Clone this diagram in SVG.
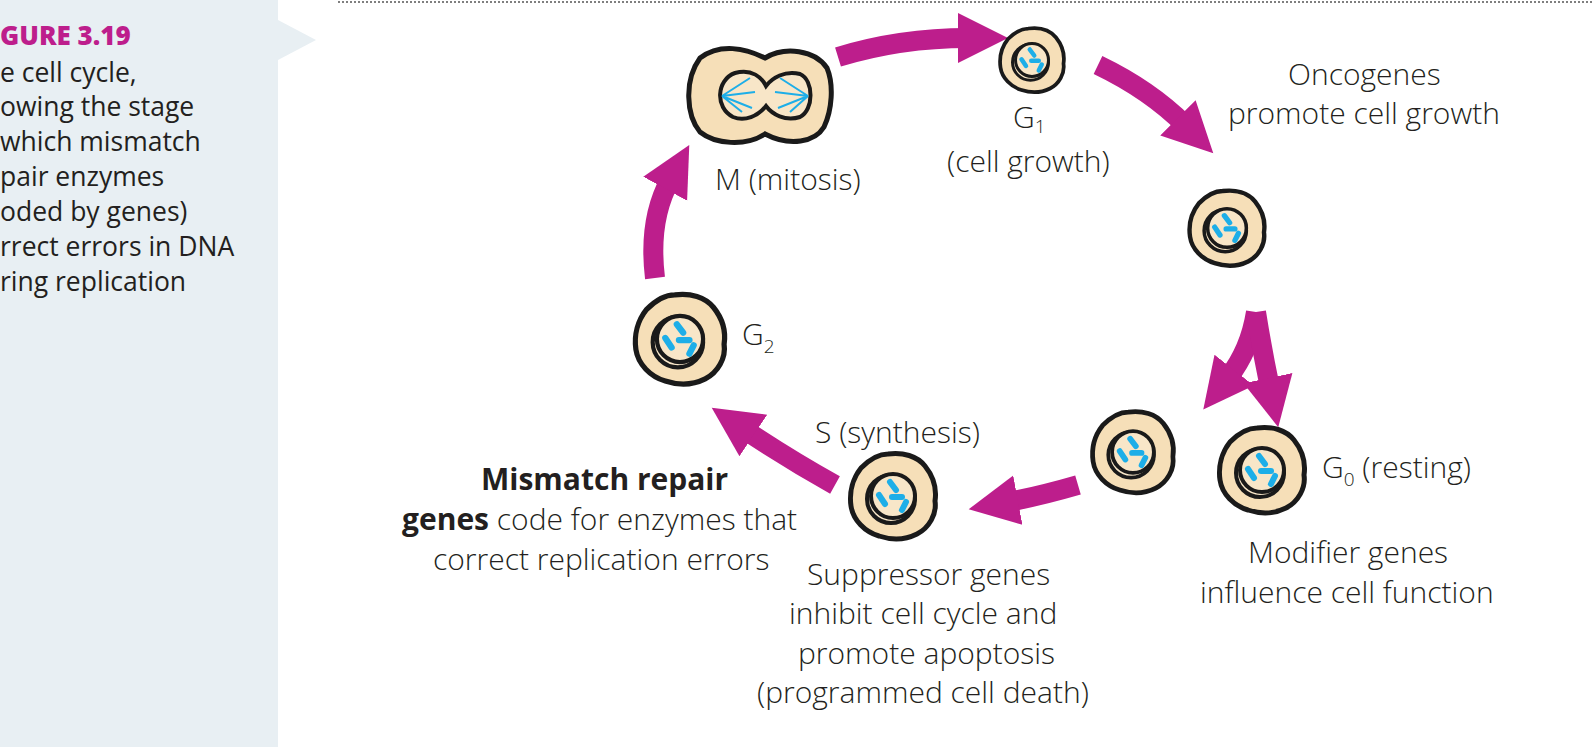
<svg xmlns="http://www.w3.org/2000/svg" xmlns:xlink="http://www.w3.org/1999/xlink" width="1594" height="747" viewBox="0 0 1594 747">
<style>
text{font-family:"Open Sans","Liberation Sans",sans-serif;font-weight:300;font-size:30px;fill:#231f20}
.cap{font-weight:400;font-size:26.5px}
.arr{fill:none;stroke:#bd1e8c;stroke-width:20}
.c{fill:#f6dfb8;stroke:#1a1a1a;stroke-width:5}
.n{fill:#f8e6c8;stroke:#1a1a1a;stroke-width:4}
.ch{stroke:#1daee8;stroke-width:6;stroke-linecap:round}
</style>
<defs>
<marker id="ah" markerUnits="userSpaceOnUse" markerWidth="60" markerHeight="60" refX="10" refY="30" orient="auto">
<path d="M0,5 L50,30 L0,55 Z" fill="#bd1e8c"/>
</marker>
<radialGradient id="g"><stop offset="0" stop-color="#f3d9ad"/><stop offset="1" stop-color="#fae6c8"/></radialGradient>
<g id="cell">
<path class="c" fill="url(#g)" d="M-5,-42 C10,-44 24,-40 32,-30 C40,-20 44,-8 42,5 C44,18 36,32 24,38 C12,44 -2,44 -14,40 C-28,36 -40,24 -42,10 C-44,-4 -40,-18 -32,-28 C-22,-38 -14,-42 -5,-42 Z"/>
<circle class="n" cx="-2" cy="3" r="24"/>
<circle class="n" cx="0" cy="0" r="22"/>
<line class="ch" x1="-3" y1="-14" x2="3" y2="-6"/>
<line class="ch" x1="-1" y1="1" x2="9" y2="1"/>
<line class="ch" x1="-14" y1="-1" x2="-8" y2="8"/>
<line class="ch" x1="13" y1="6" x2="9" y2="14"/>
</g>
</defs>
<rect width="1594" height="747" fill="#fff"/>
<g id="panel">
<rect x="0" y="0" width="278" height="747" fill="#e8eff3"/>
<path d="M278,20 L316,40 L278,60 Z" fill="#e8eff3"/>
<text x="0" y="45" style="font-family:'Open Sans','Liberation Sans',sans-serif;font-weight:800;font-size:26px;fill:#bd1e8c">GURE 3.19</text>
<text class="cap"><tspan x="0" y="82">e cell cycle,</tspan><tspan x="0" y="116">owing the stage</tspan><tspan x="0" y="151">which mismatch</tspan><tspan x="0" y="186">pair enzymes</tspan><tspan x="0" y="221">oded by genes)</tspan><tspan x="0" y="256">rrect errors in DNA</tspan><tspan x="0" y="291">ring replication</tspan></text>
</g>
<line x1="338" y1="2" x2="1594" y2="2" stroke="#555" stroke-width="1.5" stroke-dasharray="2,2"/>
<g id="connectors">
<path class="arr" d="M838,57 Q900,38 968,38" marker-end="url(#ah)"/>
<path class="arr" d="M1098,65 Q1150,90 1185,125" marker-end="url(#ah)"/>
<path class="arr" d="M1256,312 Q1250,350 1228,378" marker-end="url(#ah)"/>
<path class="arr" d="M1256,312 Q1262,350 1270,388" marker-end="url(#ah)"/>
<path class="arr" d="M1078,485 Q1040,496 1008,502" marker-end="url(#ah)"/>
<path class="arr" d="M835,485 Q790,460 745,430" marker-end="url(#ah)"/>
<path class="arr" d="M655,278 Q648,220 670,180" marker-end="url(#ah)"/>
</g>
<g id="M">
<path class="c" fill="url(#g)" d="M700,58 C720,43 745,48 765,58 C785,46 815,50 827,68 C834,85 832,110 824,127 C815,142 790,147 765,134 C745,147 715,144 700,132 C686,115 684,80 700,58 Z"/>
<path class="n" d="M735,73 C752,68 762,78 766,86 C772,78 785,70 800,74 C814,80 814,110 800,117 C785,122 772,114 766,106 C758,116 745,122 733,117 C715,108 716,80 735,73 Z"/>
<g stroke="#1daee8" stroke-width="2" fill="none"><path d="M722,96 L750,78 M722,96 L755,92 M722,96 L752,108 M722,96 L742,112 M808,96 L780,78 M808,96 L775,92 M808,96 L778,108 M808,96 L790,112"/></g>
<text x="715" y="190">M (mitosis)</text>
</g>
<g id="G1"><use xlink:href="#cell" transform="translate(1032,60) scale(0.75)"/><text x="1013" y="128">G<tspan font-size="19" dy="5">1</tspan></text><text x="947" y="172">(cell growth)</text></g>
<g id="growth"><use xlink:href="#cell" transform="translate(1227,228) scale(0.88)"/><text x="1288" y="85">Oncogenes</text><text x="1228" y="124">promote cell growth</text></g>
<g id="mid"><use xlink:href="#cell" transform="translate(1133,452) scale(0.95)"/></g>
<g id="G0"><use xlink:href="#cell" transform="translate(1262,470) scale(1)"/><text x="1322" y="478">G<tspan font-size="19" dy="8">0</tspan><tspan dy="-8"> (resting)</tspan></text><text x="1248" y="563">Modifier genes</text><text x="1200" y="603">influence cell function</text></g>
<g id="S"><use xlink:href="#cell" transform="translate(893,496) scale(1)"/><text x="815" y="443">S (synthesis)</text><text x="807" y="585">Suppressor genes</text><text x="789" y="624">inhibit cell cycle and</text><text x="798" y="664">promote apoptosis</text><text x="757" y="703">(programmed cell death)</text></g>
<g id="G2"><use xlink:href="#cell" transform="translate(680,339) scale(1.05)"/><text x="742" y="345">G<tspan font-size="19" dy="8">2</tspan></text></g>
<g id="mismatch"><text x="481" y="490" style="font-weight:700">Mismatch repair</text><text x="402" y="530"><tspan style="font-weight:700">genes</tspan> code for enzymes that</text><text x="433" y="570">correct replication errors</text></g>
</svg>
